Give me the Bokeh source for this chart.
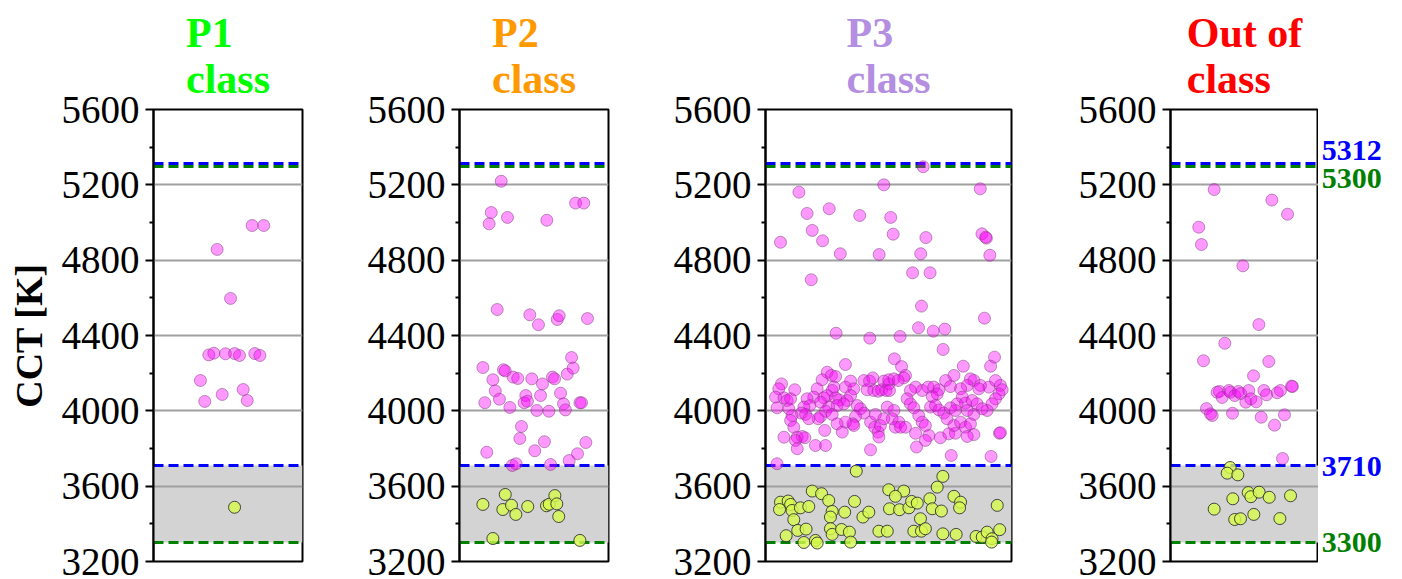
from bokeh.plotting import figure
from bokeh.layouts import row
from bokeh.models import FixedTicker, Range1d
from bokeh.core.properties import value
from bokeh.embed import file_html
from bokeh.resources import INLINE

# ---------------- data ----------------
yticks = [3200, 3600, 4000, 4400, 4800, 5200, 5600]
yminor = [3400, 3800, 4200, 4600, 5000, 5400]
gridlines = [3600, 4000, 4400, 4800, 5200]
band_low = [3300]
band_high = [3710]
blue_limits = [5312, 3710]
green_limits = [5300, 3300]
limit_labels = ["5312", "5300", "3710", "3300"]
limit_values = [5312, 5300, 3710, 3300]

titles = ["P1\nclass", "P2\nclass", "P3\nclass", "Out of\nclass"]
title_colors = ["#00ff00", "#ff9900", "#b48ee0", "#ff0000"]

# P1 class
p1_pink_x = [0.662, 0.740, 0.427, 0.517, 0.371, 0.405, 0.483, 0.544, 0.577, 0.680,
             0.714, 0.315, 0.344, 0.461, 0.602, 0.629]
p1_pink_y = [4984, 4984, 4857, 4597, 4297, 4306, 4303, 4304, 4294, 4304,
             4294, 4161, 4050, 4087, 4113, 4055]
p1_green_x = [0.544]
p1_green_y = [3488]

# P2 class
p2_pink_x = [0.280, 0.213, 0.199, 0.322, 0.586, 0.779, 0.834, 0.253, 0.472, 0.530,
             0.656, 0.669, 0.859, 0.157, 0.224, 0.240, 0.170, 0.268, 0.295, 0.307,
             0.338, 0.360, 0.391, 0.445, 0.434, 0.456, 0.485, 0.519, 0.544, 0.557,
             0.600, 0.624, 0.638, 0.678, 0.698, 0.711, 0.723, 0.763, 0.752, 0.808,
             0.819, 0.183, 0.416, 0.405, 0.570, 0.505, 0.848, 0.792, 0.736, 0.354,
             0.380, 0.611]
p2_pink_y = [5219, 5053, 4993, 5027, 5012, 5103, 5103, 4538, 4510, 4457,
             4485, 4505, 4490, 4230, 4165, 4106, 4043, 4062, 4218, 4212,
             4018, 4179, 4172, 4081, 4043, 4051, 4170, 4002, 4081, 4143,
             3998, 4179, 4170, 4094, 4037, 4005, 4195, 4227, 4283, 4043,
             4043, 3780, 3917, 3853, 3836, 3788, 3832, 3772, 3736, 3710,
             3719, 3715]
p2_green_x = [0.157, 0.307, 0.291, 0.349, 0.378, 0.458, 0.584, 0.602, 0.640, 0.653,
              0.666, 0.224, 0.808]
p2_green_y = [3503, 3556, 3476, 3499, 3450, 3492, 3496, 3504, 3550, 3506,
              3439, 3322, 3312]

# P3 class
p3_pink_x = [0.061, 0.136, 0.169, 0.190, 0.186, 0.232, 0.259, 0.304, 0.383, 0.462,
             0.481, 0.509, 0.519, 0.598, 0.631, 0.641, 0.652, 0.669, 0.634, 0.873,
             0.880, 0.898, 0.895, 0.912, 0.890, 0.287, 0.622, 0.682, 0.729, 0.424,
             0.547, 0.722, 0.931, 0.915, 0.325, 0.524, 0.553, 0.804,
             0.251, 0.268, 0.285, 0.230, 0.065, 0.054, 0.119, 0.041, 0.075, 0.088,
             0.102, 0.047, 0.095, 0.210, 0.196, 0.169, 0.180, 0.156, 0.146, 0.163,
             0.278, 0.271, 0.251, 0.237, 0.224, 0.285, 0.301, 0.325, 0.346, 0.359,
             0.346, 0.332, 0.318, 0.291, 0.257, 0.244, 0.271, 0.224, 0.214, 0.373,
             0.386, 0.400, 0.366, 0.355, 0.325, 0.291, 0.241, 0.176, 0.108, 0.102,
             0.115, 0.075, 0.129, 0.149, 0.160, 0.312, 0.359, 0.400, 0.413, 0.423,
             0.436, 0.440, 0.458, 0.472, 0.481, 0.490, 0.501, 0.427, 0.444, 0.458,
             0.467, 0.447, 0.481, 0.495,
             0.569, 0.562, 0.501, 0.522, 0.539, 0.504, 0.766, 0.732, 0.833, 0.847,
             0.874, 0.820, 0.867, 0.908, 0.935, 0.955, 0.962, 0.949, 0.935, 0.921,
             0.901, 0.610, 0.589, 0.637, 0.661, 0.684, 0.705, 0.698, 0.678, 0.576,
             0.589, 0.603, 0.752, 0.793, 0.800, 0.779, 0.813, 0.840, 0.860, 0.881,
             0.847, 0.820, 0.671, 0.691, 0.705, 0.725, 0.752, 0.772, 0.738, 0.522,
             0.515, 0.542, 0.528, 0.549, 0.569, 0.623, 0.637, 0.650, 0.610, 0.664,
             0.711, 0.745, 0.772, 0.766, 0.793, 0.813, 0.833, 0.847, 0.820, 0.951,
             0.955,
             0.047, 0.122, 0.129, 0.203, 0.244, 0.427, 0.461, 0.614, 0.650, 0.755,
             0.917]
p3_pink_y = [4895, 5161, 5048, 4958, 4696, 4903, 5073, 4834, 5037, 4830,
             5200, 5027, 4938, 4733, 4834, 5296, 4920, 4733, 4556, 5179,
             4940, 4917, 4922, 4826, 4492, 4412, 4441, 4423, 4434, 4386,
             4395, 4326, 4285, 4237, 4246, 4276, 4235, 4237,
             4205, 4188, 4182, 4165, 4143, 4117, 4112, 4073, 4069, 4055,
             4064, 4016, 4011, 4117, 4073, 4064, 4028, 4020, 3988, 3981,
             4126, 4108, 4081, 4069, 4046, 4069, 4058, 4126, 4158, 4117,
             4081, 4055, 4037, 4028, 4020, 3998, 3981, 3970, 3958, 4028,
             4011, 3988, 3970, 3931, 3940, 3931, 3896, 3958, 3975, 3949,
             3913, 3860, 3860, 3864, 3857, 3887, 3922, 4161, 4112, 4158,
             4175, 4108, 4104, 4112, 4158, 4108, 4143, 3940, 3913, 3887,
             3922, 3981, 3958, 4020,
             4188, 4175, 4165, 4170, 4161, 4108, 4188, 4161, 4170, 4161,
             4135, 4135, 4117, 4126, 4161, 4135, 4112, 4090, 4064, 4037,
             4002, 4126, 4108, 4108, 4126, 4126, 4112, 4090, 4076, 4064,
             4037, 4016, 4129, 4117, 4073, 4037, 4041, 4055, 4037, 4011,
             3981, 4002, 4020, 4028, 4005, 3988, 4016, 4002, 3958, 4002,
             3958, 3940, 3913, 3913, 3913, 3975, 3940, 3922, 3881, 3869,
             3857, 3878, 3881, 3922, 3940, 3913, 3931, 3874, 3864, 3881,
             3884,
             3719, 3843, 3799, 3816, 3816, 3793, 3861, 3808, 3843, 3763,
             3758]
p3_green_x = [0.369, 0.190, 0.228, 0.257, 0.061, 0.092, 0.102, 0.057, 0.108, 0.142,
              0.176, 0.115, 0.084, 0.131, 0.165, 0.156, 0.203, 0.210, 0.271, 0.264,
              0.322, 0.362, 0.264, 0.271, 0.309, 0.341, 0.346, 0.396, 0.420, 0.461,
              0.495, 0.504, 0.501, 0.721, 0.698, 0.562, 0.528, 0.545, 0.583, 0.594,
              0.617, 0.668, 0.678, 0.715, 0.766, 0.793, 0.789, 0.630, 0.603, 0.634,
              0.650, 0.721, 0.775, 0.856, 0.881, 0.901, 0.921, 0.919, 0.952, 0.942]
p3_green_y = [3680, 3574, 3560, 3524, 3515, 3521, 3503, 3476, 3471, 3485,
              3492, 3422, 3337, 3365, 3372, 3301, 3312, 3298, 3466, 3436,
              3462, 3519, 3374, 3344, 3370, 3356, 3303, 3436, 3462, 3361,
              3361, 3480, 3581, 3652, 3595, 3574, 3546, 3475, 3485, 3519,
              3510, 3533, 3480, 3468, 3546, 3515, 3485, 3427, 3361, 3361,
              3374, 3347, 3344, 3333, 3330, 3356, 3321, 3303, 3369, 3498]

# Out of class
p4_pink_x = [0.295, 0.191, 0.209, 0.685, 0.791, 0.489, 0.597, 0.367, 0.223, 0.664,
             0.561, 0.315, 0.331, 0.349, 0.394, 0.405, 0.434, 0.459, 0.475, 0.509,
             0.529, 0.543, 0.579, 0.631, 0.649, 0.721, 0.743, 0.818, 0.824, 0.243,
             0.282, 0.270, 0.419, 0.613, 0.770, 0.703, 0.757]
p4_pink_y = [5175, 4975, 4883, 5119, 5044, 4770, 4458, 4359, 4266, 4262,
             4186, 4099, 4103, 4071, 4108, 4099, 4081, 4103, 4092, 4046,
             4108, 4064, 4048, 4108, 4085, 4096, 4108, 4131, 4129, 4012,
             3975, 3984, 3987, 3966, 3979, 3924, 3747]
p4_green_x = [0.403, 0.383, 0.455, 0.295, 0.421, 0.525, 0.543, 0.599, 0.667, 0.811,
              0.563, 0.434, 0.473, 0.739]
p4_green_y = [3699, 3669, 3660, 3478, 3533, 3566, 3544, 3568, 3541, 3549,
              3450, 3423, 3427, 3428]

panels = [
    (p1_pink_x, p1_pink_y, p1_green_x, p1_green_y),
    (p2_pink_x, p2_pink_y, p2_green_x, p2_green_y),
    (p3_pink_x, p3_pink_y, p3_green_x, p3_green_y),
    (p4_pink_x, p4_pink_y, p4_green_x, p4_green_y),
]

# ---------------- layout ----------------
FONT = "Liberation Serif"
widths = [314, 306, 405, 293]
border_left = [153, 145, 145, 145]
border_right = [12, 12, 14, 0]
BORDER_TOP = 109
BORDER_BOTTOM = 16
HEIGHT = 577
SIDE_WIDTH = 80


def make_panel(i):
    px, py, gx, gy = panels[i]
    p = figure(width=widths[i], height=HEIGHT, output_backend="svg",
               toolbar_location=None, x_range=Range1d(0, 1),
               y_range=Range1d(yticks[0], yticks[-1]),
               min_border_left=border_left[i], min_border_right=border_right[i],
               min_border_top=BORDER_TOP, min_border_bottom=BORDER_BOTTOM)
    p.title.text = titles[i]
    p.title.align = "center"
    p.title.text_color = title_colors[i]
    p.title.text_font = FONT
    p.title.text_font_size = "42px"
    p.title.text_font_style = "bold"
    p.title.standoff = 15

    p.xaxis.visible = False
    p.xgrid.visible = False
    p.ygrid.visible = False
    p.outline_line_color = "black"
    p.outline_line_width = 2
    p.outline_line_alpha = 1
    p.background_fill_color = "white"
    p.border_fill_color = "white"

    ax = p.yaxis[0]
    ax.ticker = FixedTicker(ticks=yticks, minor_ticks=yminor)
    ax.major_label_text_font = FONT
    ax.major_label_text_font_size = "39px"
    ax.major_label_text_color = "black"
    ax.major_tick_out = 8
    ax.major_tick_in = 0
    ax.minor_tick_out = 4
    ax.minor_tick_in = 0
    ax.major_tick_line_width = 2
    ax.minor_tick_line_width = 2
    ax.axis_line_width = 2
    ax.major_label_standoff = 6
    if i == 0:
        ax.axis_label = "CCT [K]"
        ax.axis_label_text_font = FONT
        ax.axis_label_text_font_size = "38px"
        ax.axis_label_text_font_style = "bold"
        ax.axis_label_text_color = "black"
        ax.axis_label_standoff = 9

    p.hstrip(y0=band_low, y1=band_high, fill_color="#d3d3d3", line_color=None)
    p.hspan(y=gridlines, line_color="#a0a0a0", line_width=2)
    p.hspan(y=green_limits, line_color="#008000", line_width=3, line_dash="10 5")
    p.hspan(y=blue_limits, line_color="#0000ff", line_width=3, line_dash="10 5")

    p.scatter(px, py, size=12, fill_color="#ff00ff", fill_alpha=0.4,
              line_color="#7a3a7a", line_alpha=0.5, line_width=1)
    p.scatter(gx, gy, size=12, fill_color="#d7fa4c", fill_alpha=0.8,
              line_color="#333333", line_alpha=0.9, line_width=1)
    return p


def make_side():
    s = figure(width=SIDE_WIDTH, height=HEIGHT, output_backend="svg",
               toolbar_location=None, x_range=Range1d(0, 1),
               y_range=Range1d(yticks[0], yticks[-1]),
               min_border_left=0, min_border_right=0,
               min_border_top=BORDER_TOP, min_border_bottom=BORDER_BOTTOM)
    s.axis.visible = False
    s.grid.visible = False
    s.outline_line_color = None
    s.background_fill_color = "white"
    s.border_fill_color = "white"
    colors = ["#0000ff", "#008000", "#0000ff", "#008000"]
    offsets = [-13, 12, 1, 0]
    s.text(x=[0.04] * 4, y=limit_values, text=limit_labels, text_color=colors,
           y_offset=offsets, text_font=value(FONT), text_font_size="30px",
           text_font_style="bold", text_baseline="middle", text_align="left")
    return s


figs = [make_panel(i) for i in range(4)] + [make_side()]
layout = row(*figs, spacing=0)

open("out.html", "w").write(file_html(layout, INLINE))
